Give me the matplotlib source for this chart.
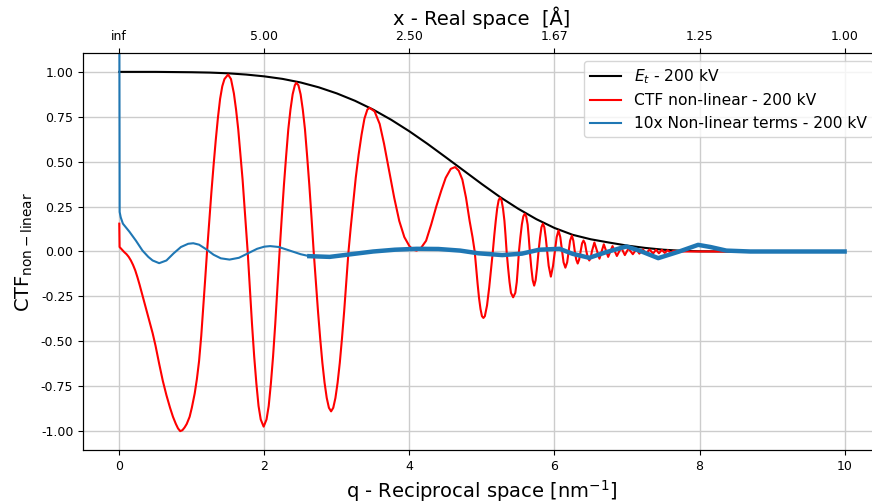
import numpy as np
import matplotlib
matplotlib.use("Agg")
import matplotlib.pyplot as plt

# envelope E_t
q_env = [0.0, 0.5, 1.0, 1.25, 1.5, 1.75, 2.0, 2.25, 2.5, 2.75, 3.0, 3.25, 3.5,
         3.75, 4.0, 4.25, 4.5, 4.75, 5.0, 5.25, 5.5, 5.75, 6.0, 6.25, 6.5, 6.75,
         7.0, 7.25, 7.5, 7.75, 8.0, 8.5, 9.0, 10.0]
env = [1.0, 1.0, 0.998, 0.996, 0.992, 0.985, 0.975, 0.961, 0.941, 0.914, 0.88,
       0.839, 0.79, 0.733, 0.669, 0.599, 0.525, 0.45, 0.375, 0.303, 0.238, 0.18,
       0.131, 0.093, 0.068, 0.05, 0.033, 0.02, 0.01, 0.004, 0.001, 0.0, 0.0, 0.0]

# CTF non-linear (red curve), read lobe by lobe
q_ctf = [0.0, 0.004, 0.07, 0.1, 0.13, 0.16, 0.19, 0.22, 0.25, 0.28, 0.32, 0.37,
         0.41, 0.46, 0.5, 0.55, 0.6, 0.65, 0.7, 0.74, 0.78, 0.81, 0.84, 0.87,
         0.9, 0.93, 0.97, 1.0, 1.04, 1.07, 1.1, 1.13, 1.16, 1.185, 1.21,
         1.24, 1.27, 1.3, 1.33, 1.36, 1.39, 1.42, 1.45, 1.5, 1.54, 1.58, 1.61,
         1.64, 1.67, 1.7, 1.73, 1.77,
         1.8, 1.83, 1.86, 1.89, 1.92, 1.95, 1.99, 2.03, 2.06, 2.09, 2.12, 2.15,
         2.18, 2.21,
         2.24, 2.27, 2.3, 2.33, 2.36, 2.39, 2.42, 2.44, 2.47, 2.5, 2.53, 2.56,
         2.59, 2.62, 2.65, 2.68,
         2.71, 2.74, 2.77, 2.8, 2.83, 2.86, 2.89, 2.92, 2.95, 2.98, 3.01, 3.04,
         3.07, 3.1, 3.13, 3.16,
         3.19, 3.22, 3.26, 3.3, 3.34, 3.38, 3.42, 3.45, 3.52, 3.59, 3.65, 3.72,
         3.79, 3.86, 3.93, 4.0, 4.05, 4.1, 4.16, 4.23, 4.3, 4.37, 4.44, 4.5,
         4.57, 4.63, 4.68, 4.73, 4.78, 4.83, 4.87, 4.9,
         4.92, 4.94, 4.96, 4.98, 5.0, 5.02, 5.04, 5.07, 5.1, 5.125, 5.15,
         5.17, 5.19, 5.21, 5.23, 5.25, 5.27, 5.29, 5.31, 5.325, 5.34,
         5.36, 5.38, 5.4, 5.43, 5.46, 5.48, 5.495, 5.51,
         5.53, 5.55, 5.57, 5.59, 5.61, 5.63, 5.645, 5.66,
         5.68, 5.7, 5.72, 5.74, 5.76, 5.78,
         5.8, 5.82, 5.84, 5.86, 5.88, 5.9,
         5.92, 5.95, 5.98, 6.005, 6.03, 6.055, 6.08, 6.105, 6.125, 6.15, 6.175,
         6.195, 6.215, 6.24, 6.26, 6.28, 6.3, 6.32, 6.34, 6.36, 6.38, 6.4, 6.42,
         6.44, 6.46, 6.48, 6.5, 6.515,
         6.55, 6.62, 6.68, 6.74, 6.8, 6.86, 6.92, 6.97, 7.02, 7.08, 7.13, 7.17,
         7.22, 7.26, 7.31, 7.36, 7.4, 7.44, 7.48, 7.52, 7.56, 7.6, 7.64, 7.7,
         10.0]
ctf = [0.155, 0.025, -0.004, -0.015, -0.03, -0.05, -0.075, -0.105, -0.143,
       -0.185, -0.245, -0.32, -0.38, -0.455, -0.525, -0.625, -0.72, -0.8, -0.87,
       -0.92, -0.96, -0.985, -1.0, -0.995, -0.98, -0.96, -0.92, -0.87, -0.79,
       -0.71, -0.61, -0.47, -0.3, -0.15, 0.0,
       0.165, 0.33, 0.48, 0.62, 0.745, 0.85, 0.92, 0.96, 0.985, 0.96, 0.88,
       0.79, 0.68, 0.54, 0.4, 0.23, 0.0,
       -0.2, -0.405, -0.585, -0.735, -0.86, -0.935, -0.975, -0.935, -0.86,
       -0.735, -0.585, -0.405, -0.2, 0.0,
       0.19, 0.37, 0.53, 0.68, 0.79, 0.875, 0.925, 0.94, 0.925, 0.875, 0.79,
       0.68, 0.53, 0.37, 0.19, 0.0,
       -0.17, -0.335, -0.485, -0.62, -0.73, -0.815, -0.87, -0.89, -0.87,
       -0.815, -0.73, -0.62, -0.485, -0.335, -0.17, 0.0,
       0.13, 0.25, 0.41, 0.54, 0.65, 0.74, 0.79, 0.8, 0.78, 0.71, 0.6, 0.45,
       0.3, 0.17, 0.08, 0.03, 0.01, 0.005, 0.02, 0.06, 0.15, 0.25, 0.34, 0.41,
       0.46, 0.47, 0.45, 0.4, 0.3, 0.17, 0.08, 0.0,
       -0.09, -0.18, -0.26, -0.32, -0.36, -0.37, -0.36, -0.3, -0.2, -0.1, 0.0,
       0.09, 0.17, 0.24, 0.285, 0.3, 0.285, 0.24, 0.17, 0.09, 0.0,
       -0.09, -0.17, -0.23, -0.255, -0.23, -0.17, -0.09, 0.0,
       0.08, 0.15, 0.195, 0.21, 0.195, 0.15, 0.08, 0.0,
       -0.09, -0.16, -0.19, -0.16, -0.09, 0.0,
       0.075, 0.135, 0.155, 0.135, 0.075, 0.0,
       -0.08, -0.14, -0.08, 0.0, 0.08, 0.117, 0.08, 0.0, -0.06, -0.09, -0.06,
       0.0, 0.06, 0.089, 0.06, 0.0, -0.045, -0.067, -0.045, 0.0, 0.045, 0.061,
       0.045, 0.0, -0.035, -0.05, -0.035, 0.0,
       0.05, -0.04, 0.04, -0.03, 0.03, -0.025, 0.022, -0.02, 0.017, -0.015,
       0.013, -0.012, 0.012, -0.012, 0.011, -0.011, 0.01, -0.01, 0.009, -0.008,
       0.007, -0.006, 0.004, 0.0, 0.0]

# 10x non-linear terms (blue curve); smooth part, then the noisy part
q_nl = [0.0, 0.005, 0.02, 0.05, 0.14, 0.23, 0.32, 0.4, 0.46, 0.55, 0.65, 0.75,
        0.85, 0.95, 1.02, 1.1, 1.2, 1.3, 1.4, 1.52, 1.65, 1.8, 1.9, 2.0, 2.08,
        2.2, 2.35, 2.5, 2.62]
nl = [1.5, 0.22, 0.19, 0.155, 0.11, 0.06, 0.005, -0.03, -0.05, -0.065, -0.05,
      -0.01, 0.025, 0.043, 0.046, 0.038, 0.012, -0.018, -0.038, -0.045, -0.035,
      -0.005, 0.015, 0.027, 0.03, 0.025, 0.005, -0.015, -0.026]
q_nl_noisy = [2.62, 2.9, 3.2, 3.5, 3.8, 4.1, 4.4, 4.7, 4.95, 5.28, 5.55, 5.79,
              6.07, 6.25, 6.48, 6.71, 6.99, 7.17, 7.43, 7.72, 7.98, 8.15, 8.37,
              8.7, 9.0, 10.0]
nl_noisy = [-0.026, -0.03, -0.015, 0.0, 0.01, 0.015, 0.014, 0.005, -0.01,
            -0.02, -0.012, 0.01, 0.015, -0.013, -0.035, -0.004, 0.028, 0.005,
            -0.037, 0.0, 0.037, 0.025, 0.005, 0.0, 0.0, 0.0]

# top axis: real-space labels at the q ticks
q_ticks = [0, 2, 4, 6, 8, 10]
x_labels = ['inf', '5.00', '2.50', '1.67', '1.25', '1.00']

fig = plt.figure(figsize=(8.72, 5.03), dpi=100)
ax = fig.add_axes([0.0952, 0.1054, 0.915, 0.7892])

ax.plot(q_env, env, color='black', lw=1.5, label='$E_t$ - 200 kV')
ax.plot(q_ctf, ctf, color='red', lw=1.5, label='CTF non-linear - 200 kV')
ax.plot(q_nl, nl, color='#1f77b4', lw=1.5, label='10x Non-linear terms - 200 kV')
ax.plot(q_nl_noisy, nl_noisy, color='#1f77b4', lw=3.2)

ax.set_xlim(-0.5, 10.5)
ax.set_ylim(-1.105, 1.105)
ax.set_xticks(q_ticks)
ax.set_yticks(np.arange(-1.0, 1.01, 0.25))
ax.yaxis.set_major_formatter(matplotlib.ticker.FormatStrFormatter('%.2f'))
ax.tick_params(labelsize=9)
ax.grid(True, color='#cccccc', lw=1)
ax.set_xlabel(r'q - Reciprocal space [nm$^{-1}$]', fontsize=14)
ax.set_ylabel(r'CTF$_{\mathrm{non-linear}}$', fontsize=14)
ax.legend(loc='upper right', fontsize=11.2)

ax2 = ax.twiny()
ax2.set_xlim(ax.get_xlim())
ax2.set_xticks(q_ticks)
ax2.set_xticklabels(x_labels)
ax2.tick_params(labelsize=9)
ax2.set_xlabel('x - Real space  [Å]', fontsize=14)

fig.savefig('out.png', dpi=100)
